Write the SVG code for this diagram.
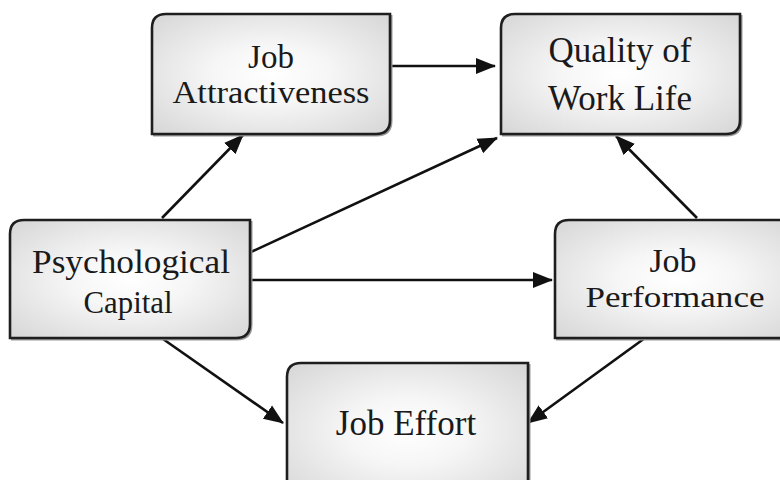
<svg xmlns="http://www.w3.org/2000/svg" width="780" height="480" viewBox="0 0 780 480">
  <defs>
    <radialGradient id="boxFill" cx="50%" cy="50%" r="70%">
      <stop offset="0" stop-color="#ffffff"/>
      <stop offset="0.35" stop-color="#f6f6f6"/>
      <stop offset="1" stop-color="#d6d6d6"/>
    </radialGradient>
    <marker id="arrow" markerUnits="userSpaceOnUse" markerWidth="20" markerHeight="18" viewBox="0 0 20 18" refX="19" refY="9" orient="auto">
      <path d="M0,1 L20,9 L0,17 Z" fill="#111"/>
    </marker>
  </defs>
  <style>
    .box { fill: url(#boxFill); stroke: #1e1e1e; stroke-width: 2.6; }
    .shadow { fill: none; stroke: #9a9a9a; stroke-width: 2; }
    .lbl { font-family: "Liberation Serif", "Times New Roman", serif; fill: #1a1a1a; text-anchor: middle; }
    .edge { stroke: #111; stroke-width: 2.6; fill: none; marker-end: url(#arrow); }
  </style>

  <rect width="780" height="480" fill="#ffffff"/>

  <!-- connectors -->
  <g id="connectors">
    <line class="edge" x1="391" y1="66" x2="495" y2="66"/>
    <line class="edge" x1="162" y1="218" x2="243" y2="135"/>
    <line class="edge" x1="251" y1="252" x2="497" y2="138"/>
    <line class="edge" x1="251" y1="280" x2="552" y2="280"/>
    <line class="edge" x1="697" y1="218" x2="616" y2="136"/>
    <line class="edge" x1="163" y1="339" x2="283" y2="423"/>
    <line class="edge" x1="645" y1="338" x2="528" y2="423"/>
  </g>

  <!-- Job Attractiveness -->
  <g id="job-attractiveness">
    <path class="shadow" d="M153,135.5 H377 Q391.5,135.5 391.5,121 V15"/>
    <path class="box" d="M166,14 H390 V120 Q390,134 376,134 H152 V28 Q152,14 166,14 Z"/>
    <text class="lbl" x="271" y="68" font-size="33">Job</text>
    <text class="lbl" x="271" y="103" font-size="32" textLength="197" lengthAdjust="spacingAndGlyphs">Attractiveness</text>
  </g>

  <!-- Quality of Work Life -->
  <g id="quality-of-work-life">
    <path class="shadow" d="M502,135.5 H727 Q741.5,135.5 741.5,121 V15"/>
    <path class="box" d="M515,14 H740 V120 Q740,134 726,134 H501 V28 Q501,14 515,14 Z"/>
    <text class="lbl" x="620" y="62" font-size="35">Quality of</text>
    <text class="lbl" x="620" y="110" font-size="35">Work Life</text>
  </g>

  <!-- Psychological Capital -->
  <g id="psychological-capital">
    <path class="shadow" d="M11,339.5 H237 Q251.5,339.5 251.5,325 V221"/>
    <path class="box" d="M24,220 H250 V324 Q250,338 236,338 H10 V234 Q10,220 24,220 Z"/>
    <text class="lbl" x="131" y="273" font-size="34" textLength="198" lengthAdjust="spacingAndGlyphs">Psychological</text>
    <text class="lbl" x="128" y="313" font-size="31" textLength="89" lengthAdjust="spacingAndGlyphs">Capital</text>
  </g>

  <!-- Job Performance -->
  <g id="job-performance">
    <path class="shadow" d="M556,339.5 H800"/>
    <path class="box" d="M569,220 H800 V338 H555 V234 Q555,220 569,220 Z"/>
    <text class="lbl" x="673" y="272" font-size="34">Job</text>
    <text class="lbl" x="675" y="307" font-size="30" textLength="179" lengthAdjust="spacingAndGlyphs">Performance</text>
  </g>

  <!-- Job Effort -->
  <g id="job-effort">
    <path class="shadow" d="M529.5,364 V500"/>
    <path class="box" d="M301,363 H528 V500 H287 V377 Q287,363 301,363 Z"/>
    <text class="lbl" x="406" y="435" font-size="35">Job Effort</text>
  </g>
</svg>
